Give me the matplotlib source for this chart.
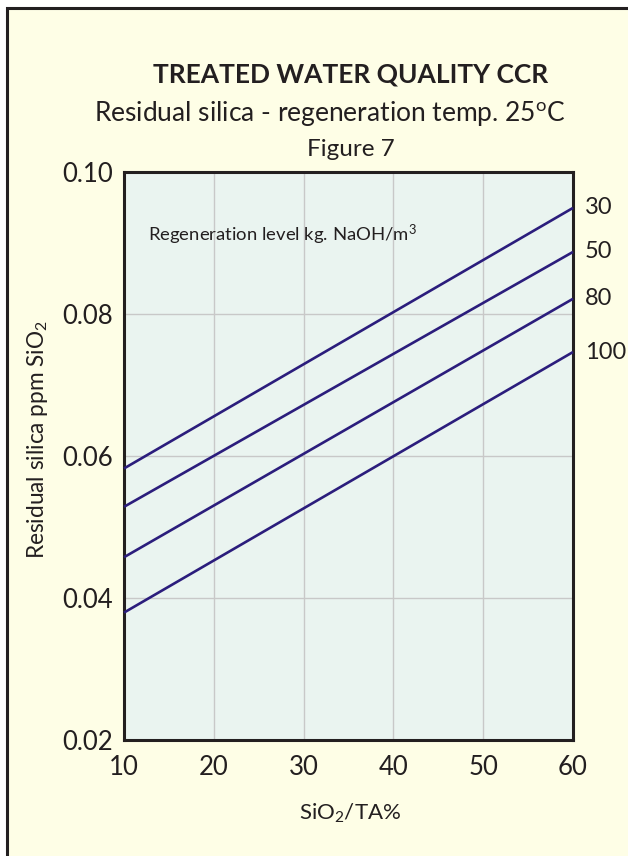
import numpy as np
import matplotlib
matplotlib.use('Agg')
import matplotlib.pyplot as plt
from matplotlib.patches import Rectangle

plt.rcParams['font.family'] = ['Lato', 'DejaVu Sans']
plt.rcParams['mathtext.fontset'] = 'custom'
plt.rcParams['mathtext.rm'] = 'Lato'
plt.rcParams['mathtext.it'] = 'Lato'

# regeneration levels (kg NaOH/m3) and residual silica at SiO2/TA% = 10 and 60
levels = ['30', '50', '80', '100']
sio2_ta = [10, 60]
silica_start = [0.0582, 0.0528, 0.0457, 0.0379]
silica_end = [0.0949, 0.0887, 0.0821, 0.0746]

x_ticks = [10, 20, 30, 40, 50, 60]
y_ticks = [0.02, 0.04, 0.06, 0.08, 0.10]

cream = '#fefee6'
panel = '#eaf4f0'
ink = '#231f20'
line_col = '#2b1d7c'

fig = plt.figure(figsize=(6.28, 8.56), dpi=100)
fig.patch.set_facecolor('white')

# cream card with a heavy frame (right/bottom edges run off the page)
card = Rectangle((7/628, -0.05), 1.2, 1 - 8/856 + 0.05, transform=fig.transFigure,
                 facecolor=cream, edgecolor=ink, linewidth=2.2, zorder=-5)
fig.patches.append(card)

ax = fig.add_axes([124/628, 1 - 739.7/856, 449/628, 568/856])
ax.set_facecolor(panel)

for lab, y0, y1 in zip(levels, silica_start, silica_end):
    ax.plot(sio2_ta, [y0, y1], color=line_col, lw=1.9, solid_capstyle='butt', clip_on=False, zorder=3)
    ax.text(61.3, y1, lab, fontsize=17, color=ink, va='center', ha='left')

ax.set_xlim(10, 60)
ax.set_ylim(0.02, 0.10)
ax.set_xticks(x_ticks)
ax.set_yticks(y_ticks)
ax.set_yticklabels(['%.2f' % v for v in y_ticks])
ax.grid(True, color='#c8c8c8', lw=1.0)
ax.set_axisbelow(True)
ax.tick_params(length=0, labelsize=18.5, colors=ink, pad=8)
ax.tick_params(axis='x', pad=11)
for s in ax.spines.values():
    s.set_linewidth(2.2)
    s.set_color(ink)

ax.text(10 + 2.65, 0.0911, 'Regeneration level kg. NaOH/m$^\\mathregular{3}$',
        fontsize=13.3, color=ink, va='center', ha='left')

# headings
fig.text(351/628, 1 - 75/856, 'TREATED WATER QUALITY CCR', ha='center', va='center',
         fontsize=19, fontweight='bold', color=ink)
fig.text(330/628, 1 - 113/856, 'Residual silica - regeneration temp. 25$^\\mathregular{o}$C',
         ha='center', va='center', fontsize=19, color=ink)
fig.text(351/628, 1 - 150/856, 'Figure 7', ha='center', va='center', fontsize=17.5, color=ink)

fig.text(350/628, 1 - 813/856, 'SiO$_\\mathregular{2}$/TA%', ha='center', va='center',
         fontsize=16, color=ink)
fig.text(38/628, 1 - 440/856, 'Residual silica ppm SiO$_\\mathregular{2}$', ha='center',
         va='center', rotation=90, fontsize=16.3, color=ink)

fig.savefig('out.png', dpi=100, facecolor=fig.get_facecolor())
